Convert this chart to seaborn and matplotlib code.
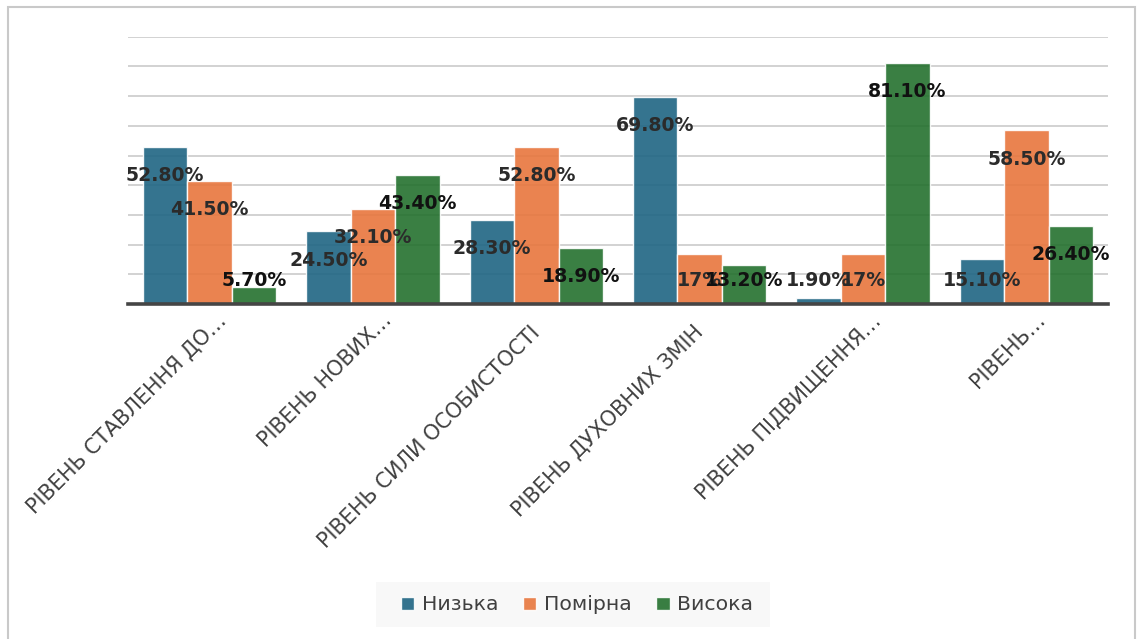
import matplotlib
matplotlib.use("Agg")
import matplotlib.pyplot as plt
import pandas as pd
import seaborn as sns
from matplotlib.patches import Rectangle
from matplotlib.transforms import ScaledTranslation

# Chart data
categories = [
    "РІВЕНЬ СТАВЛЕННЯ ДО…",
    "РІВЕНЬ НОВИХ…",
    "РІВЕНЬ СИЛИ ОСОБИСТОСТІ",
    "РІВЕНЬ ДУХОВНИХ ЗМІН",
    "РІВЕНЬ ПІДВИЩЕННЯ…",
    "РІВЕНЬ…",
]
levels = ["Низька", "Помірна", "Висока"]
low = [52.8, 24.5, 28.3, 69.8, 1.9, 15.1]
moderate = [41.5, 32.1, 52.8, 17.0, 17.0, 58.5]
high = [5.7, 43.4, 18.9, 13.2, 81.1, 26.4]

colors = ["#1f6583", "#e8763d", "#24712e"]
label_colors = ["#2b2b2b", "#2b2b2b", "#111111"]

df = pd.DataFrame({
    "category": categories * 3,
    "level": [levels[0]] * 6 + [levels[1]] * 6 + [levels[2]] * 6,
    "value": low + moderate + high,
})

sns.set_theme(style="white")
plt.rcParams["font.family"] = ["DejaVu Sans"]

W, H = 1137, 639
fig = plt.figure(figsize=(W / 100, H / 100), dpi=100)
fig.patch.set_facecolor("white")

# outer frame of the chart area
fig.add_artist(Rectangle((8 / W, -0.05), (1135 - 8) / W, 1.05 - 7 / H,
                         transform=fig.transFigure, fill=False,
                         edgecolor="#c9c9c9", linewidth=1.5))

ax = fig.add_axes([128 / W, 1 - 304 / H, 980 / W, (304 - 36.7) / H])

sns.barplot(data=df, x="category", y="value", hue="level",
            palette=colors, saturation=1, width=0.815, errorbar=None,
            alpha=0.9, edgecolor=(1, 1, 1, 0.55), linewidth=1, ax=ax)

ax.set_ylim(0, 90)
ax.set_xlim(-0.5, len(categories) - 0.5)
ax.set_yticks(range(0, 91, 10))
ax.yaxis.grid(True, color="#c6c6c6", linewidth=1.1)
ax.set_axisbelow(True)
ax.tick_params(axis="y", length=0, labelleft=False)
ax.set_xlabel("")
ax.set_ylabel("")
for side in ["top", "right", "left"]:
    ax.spines[side].set_visible(False)
ax.spines["bottom"].set_color("#454545")
ax.spines["bottom"].set_linewidth(2.6)

# value labels inside the top of each bar
for container, tcolor in zip(ax.containers, label_colors):
    for bar in container:
        v = bar.get_height()
        txt = f"{v:g}%" if float(v).is_integer() else f"{v:.2f}%"
        ax.text(bar.get_x() + bar.get_width() / 2, max(v - 11.55, 5.9), txt,
                ha="center", va="baseline", fontsize=13.6, fontweight="bold",
                color=tcolor)

# rotated category labels, anchored at the end of their baseline
ax.set_xticks(range(len(categories)))
ax.set_xticklabels(categories)
ax.tick_params(axis="x", length=0, pad=0, labelsize=15, labelcolor="#404040")
shift_x = [18, 20, 5, 5, 19, 20]
shift_y = [18, 17, 30, 29, 18, 17]
for lab, dx, dy in zip(ax.get_xticklabels(), shift_x, shift_y):
    lab.set_rotation(45)
    lab.set_rotation_mode("anchor")
    lab.set_ha("right")
    lab.set_va("baseline")
    lab.set_transform(lab.get_transform() +
                      ScaledTranslation(dx / 100, -dy / 100, fig.dpi_scale_trans))

# legend on a light panel below the plot
fig.add_artist(Rectangle((376 / W, 1 - 627.3 / H), (770 - 376) / W, 45.6 / H,
                         transform=fig.transFigure, facecolor="#f8f8f8",
                         edgecolor="none", zorder=0))
handles, labels = ax.get_legend_handles_labels()
ax.legend_.remove()
leg = fig.legend(handles, labels, loc="center",
                 bbox_to_anchor=(577 / W, 1 - 605 / H), ncol=3,
                 frameon=False, fontsize=14.7, handlelength=0.65,
                 handleheight=0.65, handletextpad=0.36, columnspacing=1.22,
                 borderpad=0, borderaxespad=0)
for t in leg.get_texts():
    t.set_color("#404040")

fig.savefig("out.png", dpi=100, facecolor="white")
